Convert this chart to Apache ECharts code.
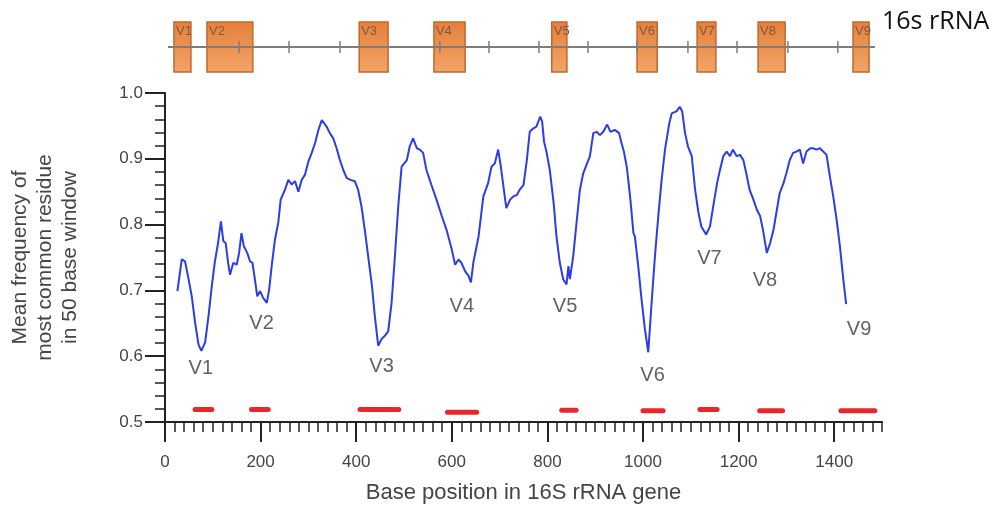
<!DOCTYPE html>
<html>
<head>
<meta charset="utf-8">
<script src="https://cdn.jsdelivr.net/npm/echarts@6/dist/echarts.min.js"></script>
<style>html,body{margin:0;padding:0;background:#fff}#c{width:999px;height:510px}</style>
</head>
<body>
<div id="c"></div>
<script>
// ---- main curve: base position and mean frequency ----
const curvePos = [26,35,42,48,56,63,70,76,84,91,98,104,111,117,122,127,132,136,143,150,155,160,165,172,178,183,188,193,199,205,213,218,224,230,237,242,251,258,265,272,279,286,293,300,307,314,321,328,332,338,345,352,359,366,373,380,388,397,404,411,418,425,433,439,446,453,460,467,474,481,488,495,506,512,519,527,533,540,547,557,568,579,589,600,607,614,620,628,635,640,645,656,666,676,683,690,697,702,708,714,722,729,736,742,750,757,763,770,777,785,789,793,798,805,813,819,826,833,840,844,847,854,861,868,875,882,889,896,903,910,917,925,932,941,950,955,960,966,973,980,983,990,997,1004,1011,1018,1025,1032,1039,1046,1055,1060,1070,1077,1082,1088,1094,1102,1109,1116,1122,1132,1140,1147,1155,1161,1168,1175,1182,1188,1196,1203,1210,1216,1223,1231,1238,1245,1251,1259,1266,1273,1279,1286,1294,1300,1307,1314,1321,1328,1335,1342,1350,1356,1363,1370,1377,1384,1391,1398,1405,1412,1419,1425];
const curveFreq = [.699,.747,.744,.722,.691,.651,.618,.608,.621,.661,.707,.742,.772,.805,.775,.772,.742,.724,.742,.739,.757,.787,.767,.757,.744,.742,.717,.691,.699,.689,.681,.702,.742,.777,.803,.838,.853,.868,.861,.866,.850,.868,.876,.896,.909,.924,.944,.959,.959,.949,.939,.931,.916,.898,.883,.871,.868,.866,.853,.828,.792,.752,.707,.661,.616,.626,.631,.638,.681,.752,.828,.888,.898,.919,.931,.916,.914,.909,.883,.861,.838,.813,.792,.762,.739,.747,.742,.729,.722,.712,.742,.782,.843,.863,.888,.893,.914,.891,.858,.825,.838,.843,.845,.853,.860,.898,.941,.946,.949,.964,.957,.926,.911,.883,.833,.782,.742,.717,.709,.737,.717,.752,.803,.853,.878,.891,.904,.939,.941,.936,.941,.952,.941,.944,.939,.924,.911,.888,.843,.787,.782,.737,.686,.641,.606,.681,.752,.813,.868,.914,.954,.969,.972,.979,.972,.939,.919,.904,.853,.818,.797,.785,.797,.828,.863,.883,.904,.911,.904,.914,.904,.906,.898,.878,.853,.838,.823,.813,.792,.757,.772,.792,.818,.848,.863,.878,.898,.909,.911,.914,.893,.911,.916,.916,.914,.916,.911,.906,.873,.843,.808,.767,.717,.679];

// ---- region labels on the curve ----
const regionNames = ['V1','V2','V3','V4','V5','V6','V7','V8','V9'];
const regionLabelPos = [75,202,453,621,837,1020,1139,1255,1452];
const regionLabelFreq = [0.581,0.650,0.584,0.675,0.675,0.570,0.749,0.715,0.640];

// ---- red bars (variable region spans) ----
const barStart = [63,181,408,591,830,1000,1119,1244,1414];
const barEnd   = [98,216,489,652,860,1042,1155,1292,1485];
const barFreq  = [0.519,0.519,0.519,0.515,0.518,0.517,0.519,0.517,0.517];

// ---- top gene diagram (16S rRNA, 0..1542 bases) ----
const boxStart = [13,85,417,580,837,1023,1154,1287,1494];
const boxEnd   = [50,185,480,648,870,1067,1195,1346,1529];
const geneTicks = [155,264,375,593,700,809,916,1023,1134,1241,1352,1461];
const geneLength = 1542;

// ---- axes ticks ----
const xMajorTicks = [0,200,400,600,800,1000,1200,1400];

const chart = echarts.init(document.getElementById('c'), null, {renderer:'canvas'});
const FONT = 'Liberation Sans, Arial, sans-serif';
const TXT = '#444';
const AX = '#222';

const boxFill = new echarts.graphic.LinearGradient(0,0,0,1,[
  {offset:0,color:'#E6803A'},{offset:1,color:'#F2A468'}]);

const option = {
  animation:false,
  backgroundColor:'#fff',
  title:{text:'16s rRNA', left:877, top:4,
    textStyle:{fontFamily:'Open Sans', fontSize:25, fontWeight:'normal', color:'#111'}},
  grid:[
    {left:165, right:117, top:93, bottom:88},
    {left:168, right:124, top:22, height:50}
  ],
  xAxis:[
    {type:'value', gridIndex:0, min:0, max:1500, position:'bottom',
     axisLine:{show:true, onZero:false, lineStyle:{color:AX, width:2}},
     axisTick:{show:true, length:20, customValues:xMajorTicks, lineStyle:{color:AX, width:2}},
     axisLabel:{show:true, customValues:xMajorTicks, margin:32, fontSize:17, color:TXT, fontFamily:FONT,
       formatter:v=>String(v)},
     splitLine:{show:false},
     name:'Base position in 16S rRNA gene', nameLocation:'middle', nameGap:60,
     nameTextStyle:{fontSize:22, color:TXT, fontFamily:FONT}},
    {type:'value', gridIndex:0, min:0, max:1500, interval:20, position:'bottom',
     axisLine:{show:false, onZero:false}, axisTick:{show:true, length:10, lineStyle:{color:AX, width:1.5}},
     axisLabel:{show:false}, splitLine:{show:false}},
    {type:'value', gridIndex:1, min:0, max:geneLength, show:false}
  ],
  yAxis:[
    {type:'value', gridIndex:0, min:0.5, max:1.0, interval:0.1,
     axisLine:{show:true, onZero:false, lineStyle:{color:AX, width:2}},
     axisTick:{show:true, length:20, lineStyle:{color:AX, width:2}},
     minorTick:{show:true, splitNumber:5, length:10, lineStyle:{color:AX, width:1.5}},
     axisLabel:{margin:22, fontSize:17, color:TXT, fontFamily:FONT, formatter:v=>v.toFixed(1)},
     splitLine:{show:false},
     name:'Mean frequency of\nmost common residue\nin 50 base window', nameLocation:'middle', nameGap:82,
     nameTextStyle:{fontSize:21, lineHeight:25, color:TXT, fontFamily:FONT, align:'center'}},
    {type:'value', gridIndex:1, min:0, max:1, show:false}
  ],
  series:[
    {type:'line', xAxisIndex:0, yAxisIndex:0, showSymbol:false, symbol:'none',
     lineStyle:{color:'#2b3de6', width:2}, z:5,
     data: curvePos.map((x,i)=>[x, curveFreq[i]])},
    {type:'custom', xAxisIndex:0, yAxisIndex:0, z:4,
     data: barStart.map((s,i)=>[s, barEnd[i], barFreq[i]]),
     renderItem:(p,api)=>{
       const a = api.coord([api.value(0), api.value(2)]);
       const b = api.coord([api.value(1), api.value(2)]);
       return {type:'line', shape:{x1:a[0], y1:a[1], x2:b[0], y2:b[1]},
         style:{stroke:'#E8262B', lineWidth:5, lineCap:'round'}};
     }},
    {type:'scatter', xAxisIndex:0, yAxisIndex:0, symbolSize:0, z:6,
     data: regionNames.map((n,i)=>({name:n, value:[regionLabelPos[i], regionLabelFreq[i]]})),
     label:{show:true, position:'inside', formatter:'{b}', fontSize:20, color:'#3a3a3a', fontFamily:FONT}},
    // gene diagram boxes
    {type:'custom', xAxisIndex:2, yAxisIndex:1, z:2,
     data: boxStart.map((s,i)=>[s, boxEnd[i], i]),
     renderItem:(p,api)=>{
       const a = api.coord([api.value(0), 1]);
       const b = api.coord([api.value(1), 0]);
       return {type:'group', children:[
         {type:'rect', shape:{x:a[0], y:a[1], width:b[0]-a[0], height:b[1]-a[1]},
          style:{fill:boxFill, stroke:'#C2672C', lineWidth:1.5}},
         {type:'text', style:{text:regionNames[api.value(2)], x:a[0]+2, y:a[1]+3,
          fill:'#7a5a48', font:'13px '+FONT}}
       ]};
     }},
    // gene backbone
    {type:'custom', xAxisIndex:2, yAxisIndex:1, z:3,
     data:[[0, geneLength]],
     renderItem:(p,api)=>{
       const a = api.coord([api.value(0), 0.5]);
       const b = api.coord([api.value(1), 0.5]);
       return {type:'line', shape:{x1:a[0], y1:a[1], x2:b[0], y2:b[1]},
         style:{stroke:'#7d7d7d', lineWidth:2}};
     }},
    // gene ticks
    {type:'custom', xAxisIndex:2, yAxisIndex:1, z:3,
     data: geneTicks.map(t=>[t]),
     renderItem:(p,api)=>{
       const a = api.coord([api.value(0), 0.62]);
       const b = api.coord([api.value(0), 0.38]);
       return {type:'line', shape:{x1:a[0], y1:a[1], x2:b[0], y2:b[1]},
         style:{stroke:'#7d7d7d', lineWidth:1.5}};
     }}
  ]
};
chart.setOption(option);
</script>
</body>
</html>
